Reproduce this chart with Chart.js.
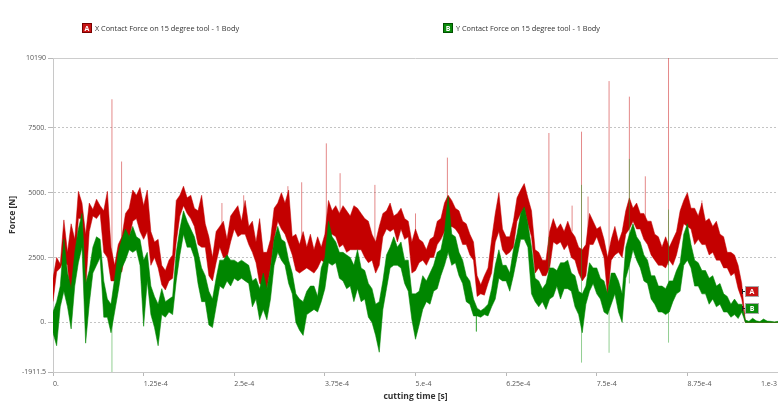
<!DOCTYPE html>
<html>
<head>
<meta charset="utf-8">
<title>Contact force on 15 degree tool</title>
<script src="https://cdn.jsdelivr.net/npm/chart.js@4/dist/chart.umd.min.js"></script>
<style>
  html, body { margin: 0; padding: 0; background: #ffffff; overflow: hidden; }
  #wrap { width: 778px; height: 406px; }
</style>
</head>
<body>
<div id="wrap"><canvas id="forceChart" width="778" height="406"></canvas></div>
<script>
// Sampling interval of the force history [s]
const SAMPLE_STEP = 5e-6;

// X contact force: upper and lower envelope of each sample window [N]
const xHigh = [
  1700, 2500, 2250, 3950, 2700, 3800, 3200, 5050, 4600, 3400,
  4600, 4350, 4750, 4500, 4300, 5050, 2900, 2200, 3000, 3300,
  4200, 4400, 5100, 4900, 5200, 4500, 5100, 3500, 3100, 3200,
  2200, 2000, 2400, 2600, 4700, 4900, 5250, 4800, 4900, 4400,
  4300, 4900, 3800, 3300, 2500, 3500, 3700, 3900, 3200, 4100,
  4300, 4500, 3900, 4700, 3700, 3900, 3100, 4000, 2700, 2700,
  3200, 4400, 4600, 5000, 4600, 5100, 3300, 3400, 3000, 3500,
  2900, 3400, 2800, 3300, 2900, 3400, 4700, 4300, 4500, 4200,
  4500, 4300, 4100, 4500, 4400, 4200, 4000, 3900, 3400, 3100,
  3700, 4200, 4300, 4600, 4100, 4200, 4400, 4000, 3900, 3100,
  3600, 3200, 3100, 2800, 3200, 3300, 3900, 4000, 4600, 4900,
  4700, 4400, 4300, 3900, 3800, 3400, 3100, 1800, 1450, 1800,
  2100, 3200, 4200, 5000, 3600, 3300, 3300, 3900, 4800, 5100,
  5350, 4800, 4300, 2800, 2700, 2400, 2400, 3500, 4000, 3600,
  3800, 3500, 3900, 3500, 3300, 2900, 2800, 3000, 4200, 3900,
  3600, 3700, 3200, 2500, 3200, 3700, 3100, 3500, 4300, 4800,
  4400, 4600, 4200, 4200, 3900, 3900, 3400, 3300, 2900, 3300,
  2900, 3200, 3500, 4300, 4700, 5000, 4400, 4400, 4100, 4600,
  3900, 4000, 3700, 3900, 3400, 3300, 2700, 2700, 2600, 2200,
  1500,
  0, 0, 0, 0, 0, 0, 0, 0, 0, 0
];
const xLow = [
  800, 1950, 2100, 2400, 2200, 600, 1900, 4000, 4000, 1250,
  3500, 4100, 4000, 4200, 2700, 2500, 1600, 1600, 1900, 1950,
  2800, 3200, 3900, 4000, 3500, 3200, 3500, 2200, 2500, 2100,
  1450, 1250, 1600, 1700, 3100, 4100, 4500, 4200, 4000, 3700,
  3000, 2900, 2900, 1800, 1600, 2300, 2900, 2500, 2500, 3100,
  3600, 3300, 3400, 3400, 3000, 2700, 2300, 1500, 1400, 1300,
  2100, 3200, 3900, 3600, 3400, 3000, 2600, 2000, 1900, 2000,
  2100, 2000, 1900, 2100, 2400, 2300, 3400, 3400, 3300, 2900,
  3000, 2700, 2800, 2800, 2800, 2800, 2500, 2300, 2400, 1900,
  2200, 3300, 3600, 3500, 3600, 3100, 3600, 3200, 3300, 1900,
  2000, 2300, 2400, 2200, 2500, 2500, 3000, 3200, 3500, 3600,
  3700, 3600, 3400, 3000, 3000, 2600, 2400, 1000, 1100, 1050,
  1500, 1900, 3100, 3500, 2800, 2600, 2700, 2900, 3900, 4200,
  4400, 3800, 3300, 1900, 2100, 1800, 1800, 2100, 3100, 3000,
  3100, 2800, 3000, 2500, 2400, 1900, 1600, 1800, 3000, 3000,
  3300, 2900, 2500, 1000, 2400, 2600, 2700, 2500, 3400, 3600,
  3900, 3600, 3600, 3200, 3000, 2600, 2400, 2200, 2200, 2100,
  2400, 2200, 2600, 3200, 3800, 3700, 3600, 3000, 3200, 3000,
  3000, 2600, 2700, 2400, 2400, 2100, 2100, 1800, 1900, 1300,
  900,
  0, 0, 0, 0, 0, 0, 0, 0, 0, 0
];

// Y contact force: upper and lower envelope of each sample window [N]
const yHigh = [
  400, 800, 1400, 3200, 1900, 1300, 2700, 3600, 4200, 1500,
  2000, 2900, 3300, 3200, 1600, 900, 700, 1700, 2700, 3200,
  3600, 3300, 3700, 3300, 3200, 2400, 2700, 1400, 1000, 700,
  1300, 800, 900, 1000, 2700, 3600, 4300, 3900, 3600, 3300,
  2700, 2100, 1800, 1200, 900, 1700, 2400, 2400, 2600, 2400,
  2400, 2300, 2400, 2300, 2200, 1600, 1700, 1300, 1900, 1300,
  2100, 3200, 3700, 3200, 3100, 2400, 1900, 1100, 900, 800,
  1200, 1400, 1400, 1000, 2100, 2500, 3900, 3300, 3100, 2700,
  2700, 2600, 2500, 2200, 2800, 2100, 2000, 1500, 1300, 700,
  800, 1600, 2600, 2900, 3300, 2900, 3100, 2400, 2400, 1100,
  1100, 1200, 1800, 1600, 1900, 2200, 2700, 2800, 3500, 4850,
  3400, 3300, 2700, 2400, 1800, 1600, 900, 550, 450, 550,
  700, 1300, 2200, 2800, 2200, 2200, 1900, 2800, 3400, 4200,
  4450, 3800, 2900, 1700, 1600, 1300, 1500, 2100, 2100, 2000,
  2300, 2300, 2400, 1900, 1800, 1200, 1100, 1400, 2300, 2100,
  2100, 1700, 1600, 1100, 1900, 1900, 1600, 1100, 2900, 3400,
  3800, 3300, 3100, 2600, 2400, 1800, 1800, 1400, 1400, 1300,
  1600, 1600, 2000, 2300, 3400, 3800, 3000, 2400, 2300, 2000,
  2000, 1700, 1800, 1400, 1500, 1100, 1000, 700, 900, 700,
  700,
  90, 40, 160, 60, 30, 130, 50, 40, 20, 40
];
const yLow = [
  -400, -900, 600, 1200, 600, -250, 1400, 2300, 2900, -800,
  700, 1900, 2200, 2500, 200, 200, -400, 400, 1200, 2100,
  2400, 2800, 2700, 2800, 2200, -150, 1600, 300, -200, -900,
  300, 200, 400, 300, 1600, 2600, 3400, 2900, 2900, 2500,
  1500, 800, 800, -100, -200, 600, 1400, 1300, 1600, 1400,
  1700, 1600, 1700, 1600, 1500, 600, 900, 100, 500, 100,
  900, 2200, 2700, 2400, 2200, 1500, 1100, 0, -300, -500,
  300, 400, 500, 400, 800, 1300, 2300, 2200, 2300, 1700,
  1600, 1300, 1400, 800, 1300, 800, 900, 200, 0, -500,
  -1150, 500, 1300, 2100, 2200, 2200, 2100, 1500, 1200, 100,
  -650, -100, 500, 800, 700, 1200, 1300, 1800, 2200, 2700,
  2200, 2300, 1800, 1500, 800, 700, 250, 250, 200, 300,
  250, 600, 900, 1700, 1600, 1600, 1200, 1800, 2500, 3200,
  3200, 2900, 1100, 800, 600, 800, 500, 900, 1000, 1400,
  900, 1300, 1300, 1200, 600, 300, -400, 700, 1200, 1500,
  1100, 900, 400, 300, 700, 1100, 400, 0, 1700, 2200,
  2800, 2400, 2100, 1600, 1500, 900, 700, 400, 400, 300,
  400, 800, 1100, 1200, 2200, 2400, 2100, 1400, 1400, 1100,
  1100, 700, 900, 600, 700, 400, 400, 200, 300, 150,
  400,
  0, 0, 0, 0, 0, 0, 0, 0, 0, 0
];

// Short impact peaks between samples: time [s], start and end force [N]
const xPeakTime = [8.13e-5, 9.46e-5, 2.33e-4, 2.63e-4, 3.24e-4, 3.43e-4, 3.77e-4, 3.96e-4,
                   4.44e-4, 5.0e-4, 5.44e-4, 6.84e-4, 7.16e-4, 7.29e-4, 7.38e-4, 7.67e-4,
                   7.95e-4, 8.17e-4, 8.49e-4, 8.95e-4];
const xPeakFrom = [2000, 2500, 3800, 3800, 3500, 2500, 3500, 3500,
                   2500, 3000, 3800, 2500, 3500, 2000, 3000, 1500,
                   3800, 3500, 2200, 3800];
const xPeakTo   = [8600, 6200, 4600, 4900, 5250, 5400, 6900, 5750,
                   5300, 4200, 6350, 7300, 4500, 7350, 4850, 9300,
                   8700, 5630, 10190, 4700];

const yPeakTime = [8.13e-5, 5.84e-4, 6.84e-4, 7.29e-4, 7.67e-4, 7.95e-4, 8.49e-4];
const yPeakFrom = [-1911.5, 300, 1500, -1550, -1170, 1500, -780];
const yPeakTo   = [800, -350, 3300, 5300, 1500, 6300, 4350];

// Axis ticks
const xTickValues = [0, 1.25e-4, 2.5e-4, 3.75e-4, 5e-4, 6.25e-4, 7.5e-4, 8.75e-4, 1e-3];
const xTickLabels = ['0.', '1.25e-4', '2.5e-4', '3.75e-4', '5.e-4', '6.25e-4', '7.5e-4', '8.75e-4', '1.e-3'];
const yTickValues = [10190, 7500, 5000, 2500, 0, -1911.5];
const yTickLabels = ['10190', '7500.', '5000.', '2500.', '0.', '-1911.5'];

// Series names and tags
const seriesNames = ['X Contact Force on 15 degree tool - 1 Body', 'Y Contact Force on 15 degree tool - 1 Body'];
const seriesTags = ['A', 'B'];

const RED = 'rgb(196,0,0)';
const GREEN = 'rgb(0,134,0)';
const FONT = '"Open Sans", "Noto Sans", sans-serif';

const times = xHigh.map((_, i) => i * SAMPLE_STEP);
const toPoints = vals => vals.map((v, i) => ({ x: times[i], y: v }));
const toPeaks = (t, from, to) => t.flatMap((tt, i) => [
  { x: tt, y: from[i] }, { x: tt, y: to[i] }, { x: tt, y: null }
]);

// last sample before the tool leaves the workpiece
const lastCut = xHigh.findLastIndex(v => v > 0);

const bandStyle = (color, edge) => ({
  borderColor: edge, backgroundColor: color, borderWidth: 1,
  pointRadius: 0, tension: 0
});

const decor = {
  id: 'decor',
  beforeDatasetsDraw(chart) {
    const { ctx, chartArea: a } = chart;
    ctx.save();
    ctx.strokeStyle = '#cdcdcd';
    ctx.lineWidth = 1;
    ctx.beginPath();
    ctx.moveTo(a.left, Math.round(a.top) + 0.5);
    ctx.lineTo(a.right, Math.round(a.top) + 0.5);
    ctx.stroke();
    ctx.restore();
  },
  afterDraw(chart) {
    const { ctx, scales: { x, y } } = chart;
    ctx.save();

    // x tick labels, placed to the right of each tick
    ctx.font = '7px ' + FONT;
    ctx.fillStyle = '#555555';
    ctx.textBaseline = 'middle';
    ctx.textAlign = 'left';
    xTickValues.forEach((v, i) => {
      const w = ctx.measureText(xTickLabels[i]).width;
      const px = Math.min(x.getPixelForValue(v), chart.width - w - 1);
      ctx.fillText(xTickLabels[i], px, 384);
    });

    // legend
    const tag = (cx, cy, fill, edge, letter, w, h) => {
      ctx.fillStyle = fill;
      ctx.fillRect(cx, cy, w, h);
      ctx.strokeStyle = edge;
      ctx.lineWidth = 1;
      ctx.strokeRect(cx + 0.5, cy + 0.5, w - 1, h - 1);
      ctx.fillStyle = '#ffffff';
      ctx.font = 'bold 7px ' + FONT;
      ctx.textAlign = 'center';
      ctx.textBaseline = 'middle';
      ctx.fillText(letter, cx + w / 2, cy + h / 2 + 0.5);
    };
    const legendX = [82, 443];
    const fills = ['rgb(200,20,20)', 'rgb(10,140,10)'];
    const edges = ['rgb(120,0,0)', 'rgb(0,80,0)'];
    seriesNames.forEach((name, i) => {
      tag(legendX[i], 23, fills[i], edges[i], seriesTags[i], 10, 10);
      ctx.fillStyle = '#333333';
      ctx.font = '7.3px ' + FONT;
      ctx.textAlign = 'left';
      ctx.textBaseline = 'middle';
      ctx.fillText(name, legendX[i] + 13, 28.5);
    });

    // end-of-cut tags
    const tEnd = times[lastCut];
    const ends = [(xHigh[lastCut] + xLow[lastCut]) / 2, (yHigh[lastCut] + yLow[lastCut]) / 2];
    ends.forEach((v, i) => {
      const px = Math.round(x.getPixelForValue(tEnd));
      const py = Math.round(y.getPixelForValue(v));
      ctx.strokeStyle = '#222222';
      ctx.lineWidth = 1;
      ctx.beginPath();
      ctx.moveTo(px + 0.5, py - 2);
      ctx.lineTo(px + 0.5, py + 3);
      ctx.moveTo(px, py + 0.5);
      ctx.lineTo(px + 3, py + 0.5);
      ctx.stroke();
      tag(px + 3, py - 5, fills[i], '#a8a8a8', seriesTags[i], 14, 11);
    });
    ctx.restore();
  }
};

new Chart(document.getElementById('forceChart'), {
  type: 'line',
  data: {
    datasets: [
      Object.assign({ label: 'Y high', data: toPoints(yHigh), fill: 1, order: 0 }, bandStyle(GREEN, 'rgba(0,134,0,0.55)')),
      Object.assign({ label: 'Y low', data: toPoints(yLow), fill: false, order: 0 }, bandStyle(GREEN, 'rgba(0,134,0,0.55)')),
      { label: 'Y peaks', data: toPeaks(yPeakTime, yPeakFrom, yPeakTo), order: 0, fill: false,
        borderColor: 'rgba(40,160,40,0.5)', borderWidth: 1, pointRadius: 0, spanGaps: false },
      Object.assign({ label: 'X high', data: toPoints(xHigh), fill: 4, order: 1 }, bandStyle(RED, 'rgba(196,0,0,0.5)')),
      Object.assign({ label: 'X low', data: toPoints(xLow), fill: false, order: 1 }, bandStyle(RED, 'rgba(196,0,0,0.5)')),
      { label: 'X peaks', data: toPeaks(xPeakTime, xPeakFrom, xPeakTo), order: 1, fill: false,
        borderColor: 'rgba(205,40,40,0.55)', borderWidth: 1, pointRadius: 0, spanGaps: false }
    ]
  },
  options: {
    responsive: false,
    animation: false,
    devicePixelRatio: 1,
    layout: { padding: { top: 58, left: 0, right: 0, bottom: 0 } },
    plugins: { legend: { display: false }, tooltip: { enabled: false } },
    scales: {
      x: {
        type: 'linear',
        min: 0,
        max: 1e-3,
        afterBuildTicks: s => { s.ticks = xTickValues.map(v => ({ value: v })); },
        afterFit: s => { s.height = 34; },
        ticks: { display: false },
        grid: { drawOnChartArea: false, drawTicks: true, tickLength: 4, tickColor: '#b8b8b8' },
        border: { display: true, color: '#c8c8c8' },
        title: { display: true, text: 'cutting time [s]', color: '#333333',
                 font: { family: FONT, size: 8.5, weight: 'bold' }, padding: { top: 0, bottom: 4 } }
      },
      y: {
        type: 'linear',
        min: -1911.5,
        max: 10190,
        afterBuildTicks: s => { s.ticks = yTickValues.map(v => ({ value: v })); },
        afterFit: s => { s.width = 53; },
        ticks: {
          autoSkip: false,
          color: '#555555',
          font: { family: FONT, size: 7 },
          padding: 2,
          callback: (v, i) => yTickLabels[i]
        },
        grid: {
          color: c => (c.tick && (c.tick.value === 10190 || c.tick.value === -1911.5)) ? 'rgba(0,0,0,0)' : '#c4c4c4',
          tickColor: '#b8b8b8',
          tickLength: 5,
          tickBorderDash: []
        },
        border: { display: true, color: '#c8c8c8', dash: [2, 2] },
        title: { display: true, text: 'Force [N]', color: '#333333',
                 font: { family: FONT, size: 8.5, weight: 'bold' }, padding: { top: 7, bottom: 0 } }
      }
    }
  },
  plugins: [decor]
});
</script>
</body>
</html>
